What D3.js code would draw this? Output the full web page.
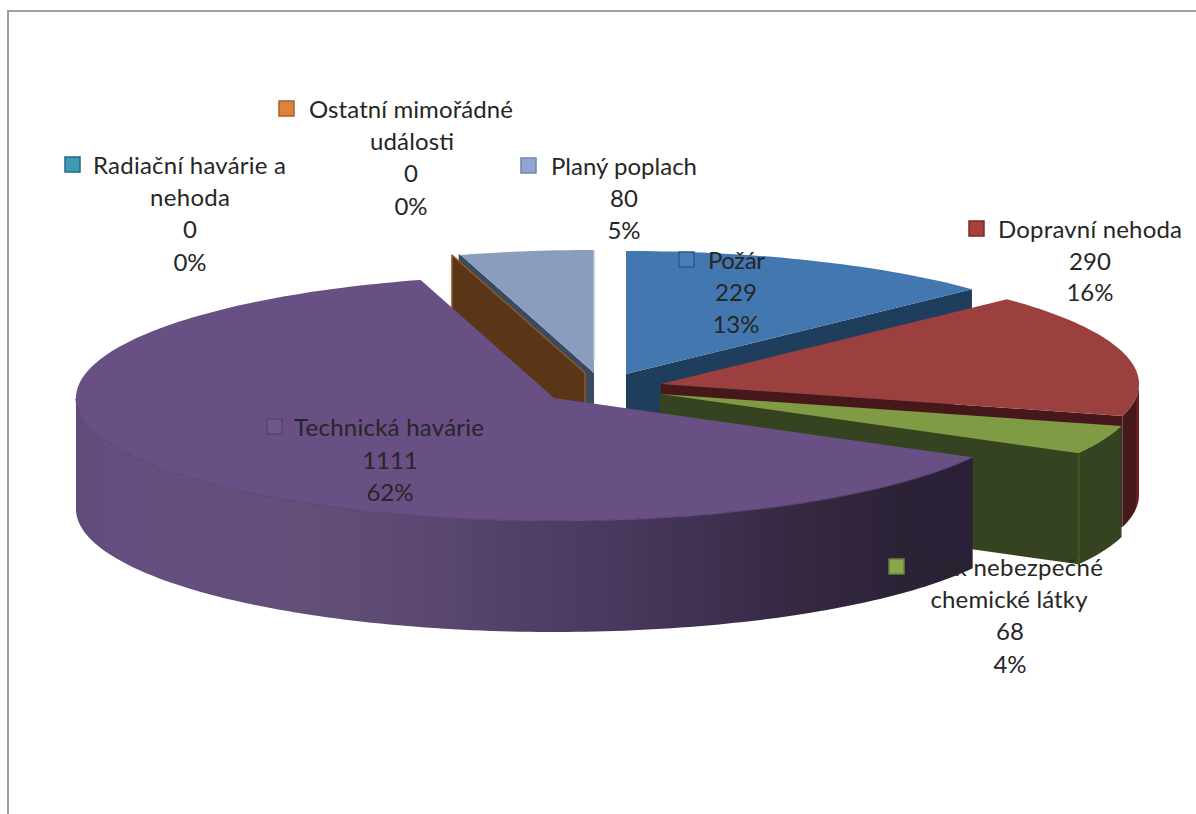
<!DOCTYPE html>
<html><head><meta charset="utf-8">
<script src="https://cdn.jsdelivr.net/npm/d3@7"></script>
<style>html,body{margin:0;padding:0;background:#fff;overflow:hidden}text{font-family:Lato,sans-serif;font-size:24px;fill:#262626}</style>
</head><body><svg id="c" width="1196" height="814"></svg>
<script>
const categories = ["Požár","Dopravní nehoda","Únik nebezpečné chemické látky","Technická havárie","Radiační havárie a nehoda","Ostatní mimořádné události","Planý poplach"];
const values = [229,290,68,1111,0,0,80];
const percents = ["13%","16%","4%","62%","0%","0%","5%"];

// layout (not data)
const RX=478, RY=123, DEPTH=111;
const centers=[[626,374],[661,384],[660,394],[554,398],[592,372],[585,373],[594,373]];
const topFill=["#4377b0","#9c403f","#7f9c45","#684f84","#3c4a60","#5a3518","#8a9dbf"];
const cutFill=["#1f3d5c","#47181a","#364321","#2a2036","#3c4a60","#5a3518","#3c4a60"];
const rimFill=["#1f3d5c","url(#rw)","#364321","url(#pw)","#3c4a60","#5a3518","#3c4a60"];
const markerFill=["#4a7ebb","#a83f3d","#88a84b","#6e5689","#3d9cb5","#e0823a","#90a5cf"];
const markerStroke=["#2c5a8c","#7c2a28","#67803a","#57436f","#256a80","#a85f25","#6f85ab"];
const drawOrder=[6,4,5,0,1,2,3];
const labelLayout=[
 {x:736,mx:678,lines:[[708,261]],rest:[293,325]},
 {x:1090,mx:968,lines:[[998,230]],rest:[262,293]},
 {x:1010,mx:888,lines:[[917,568],[1009,600,1]],rest:[632,665]},
 {x:390,mx:266,lines:[[294,428]],rest:[461,493]},
 {x:190,mx:64,lines:[[93,166],[190,198,1]],rest:[230,263]},
 {x:411,mx:278,lines:[[309,110],[412,142,1]],rest:[174,207]},
 {x:624,mx:520,lines:[[551,167]],rest:[199,231]}
];
const lineBreaks=[["Požár"],["Dopravní nehoda"],["Únik nebezpečné","chemické látky"],["Technická havárie"],["Radiační havárie a","nehoda"],["Ostatní mimořádné","události"],["Planý poplach"]];
const lineWidths=[[57],[184],[186,157],[190],[193,80],[204,84],[146]];

const svg=d3.select("#c");
const defs=svg.append("defs");
function gradient(id,x1,x2,stops){
  const gr=defs.append("linearGradient").attr("id",id).attr("gradientUnits","userSpaceOnUse").attr("x1",x1).attr("x2",x2).attr("y1",0).attr("y2",0);
  stops.forEach(s=>gr.append("stop").attr("offset",s[0]).attr("stop-color",s[1]));
}
gradient("pw",77,972,[[0,"#5f4a79"],[.04,"#654e80"],[.25,"#635079"],[.36,"#5d4a72"],[.47,"#52426a"],[.58,"#4a3a60"],[.70,"#3f3152"],[.81,"#352840"],[.92,"#2c2236"],[1,"#2a2036"]]);
gradient("rw",1122,1140,[[0,"#47181a"],[.75,"#47181a"],[.8,"#6b1c1e"],[1,"#6b1c1e"]]);

// frame
svg.append("path").attr("d",d3.line()([[8,814],[8,11],[1196,11]])).attr("fill","none").attr("stroke","#9e9e9e").attr("stroke-width",2);

const arcs=d3.pie().sort(null).value(d=>d)(values);
const line=d3.line();
function proj(i){
  const sx=d3.scaleLinear().domain([-1,1]).range([centers[i][0]-RX,centers[i][0]+RX]);
  const sy=d3.scaleLinear().domain([-1,1]).range([centers[i][1]-RY,centers[i][1]+RY]);
  return (a,dz=0)=>[sx(Math.sin(a)),sy(-Math.cos(a))+dz];
}
function rim(p,a0,a1,dz=0){
  const n=Math.max(2,Math.ceil((a1-a0)/0.02));
  return d3.range(n+1).map(k=>p(a0+(a1-a0)*k/n,dz));
}
const g=svg.append("g");
drawOrder.forEach(i=>{
  const d=arcs[i],p=proj(i),a0=d.startAngle,a1=d.endAngle;
  const ap=centers[i],apB=[ap[0],ap[1]+DEPTH];
  const cut=a=>[ap,p(a),p(a,DEPTH),apB];
  if(a1<=Math.PI) g.append("path").attr("d",line(cut(a1))+"Z").attr("fill",cutFill[i]);
  if(a0>=Math.PI) g.append("path").attr("d",line(cut(a0))+"Z").attr("fill",cutFill[i]);
  const w0=Math.max(a0,Math.PI/2),w1=Math.min(a1,Math.PI*1.5);
  if(w1>w0){
    g.append("path").attr("d",line(rim(p,w0,w1).concat(rim(p,w0,w1,DEPTH).reverse()))+"Z").attr("fill",rimFill[i]);
  }
  if(a1>a0){
    g.append("path").attr("d",line([ap].concat(rim(p,a0,a1)))+"Z").attr("fill",topFill[i]);
    if(w1>w0&&i===3) g.append("path").attr("d",line(rim(p,w0,w1))).attr("fill","none").attr("stroke","#57426f").attr("stroke-width",1);
  }
  if(i===5){
    g.append("path").attr("d",line([ap,p(a0)])).attr("stroke","#8a5a28").attr("stroke-width",1.5).attr("fill","none");
    g.append("path").attr("d",line([p(a0),p(a0,DEPTH)])).attr("stroke","#a87a4a").attr("stroke-width",1.5).attr("fill","none");
    g.append("path").attr("d",line([ap,apB])).attr("stroke","#8a5a28").attr("stroke-width",1.5).attr("fill","none");
  }
  if(i===2){
    g.append("path").attr("d",line([p(a1),p(a1,DEPTH)])).attr("stroke","#44561f").attr("stroke-width",2).attr("fill","none");
  }
  if(i===6){
    g.append("path").attr("d",line([p(a1),p(a1,DEPTH)])).attr("stroke","#c0c9dd").attr("stroke-width",1.5).attr("fill","none");
  }
});

// labels
categories.forEach((c,i)=>{
  const L=labelLayout[i];
  const first=L.lines[0];
  g.append("rect").attr("x",L.mx+1).attr("y",first[1]-9).attr("width",15).attr("height",15)
   .attr("fill",markerFill[i]).attr("stroke",markerStroke[i]).attr("stroke-width",1.5);
  lineBreaks[i].forEach((t,k)=>{
    const l=L.lines[k];
    g.append("text").attr("x",l[0]).attr("y",l[1]+8).attr("text-anchor",l[2]?"middle":"start")
     .attr("textLength",lineWidths[i][k]).attr("lengthAdjust","spacing").text(t);
  });
  g.append("text").attr("x",L.x).attr("y",L.rest[0]+8).attr("text-anchor","middle").text(values[i]);
  g.append("text").attr("x",L.x).attr("y",L.rest[1]+8).attr("text-anchor","middle").text(percents[i]);
});
</script></body></html>
